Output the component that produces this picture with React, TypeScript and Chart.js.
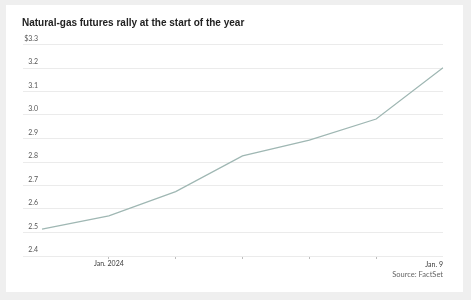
import React, { useEffect, useRef } from 'react';
import { Chart, registerables } from 'chart.js';

Chart.register(...registerables);

const categories = ['Dec. 29', 'Jan. 2024', 'Jan. 3', 'Jan. 4', 'Jan. 5', 'Jan. 8', 'Jan. 9'];
const prices = [2.514, 2.571, 2.674, 2.826, 2.893, 2.983, 3.201];
const yMin = 2.4;
const yMax = 3.3;
const yStep = 0.1;
const centeredLabelIndexes = [1];
const tickMarkIndexes = [1, 2, 3, 4, 5];
const titleText = 'Natural-gas futures rally at the start of the year';
const sourceText = 'Source: FactSet';

const TICK_FONT = 'Lato';

const endLabelPlugin = {
  id: 'endLabel',
  afterDraw(chart: any) {
    const xs = chart.scales.x;
    const ctx = chart.ctx;
    const i = categories.length - 1;
    ctx.save();
    ctx.font = `7px ${TICK_FONT}`;
    ctx.fillStyle = '#3a3a3a';
    ctx.textAlign = 'right';
    ctx.textBaseline = 'middle';
    ctx.fillText(categories[i], xs.getPixelForValue(i), xs.top + 8.5);
    ctx.restore();
  },
};

export default function App() {
  const ref = useRef<HTMLCanvasElement | null>(null);

  useEffect(() => {
    if (!ref.current) return;
    const chart = new Chart(ref.current, {
      type: 'line',
      data: {
        labels: categories,
        datasets: [
          {
            data: prices,
            borderColor: '#9fb7b3',
            borderWidth: 1.2,
            pointRadius: 0,
            tension: 0,
            fill: false,
          },
        ],
      },
      options: {
        animation: false,
        responsive: false,
        devicePixelRatio: 1,
        layout: { padding: { left: 16, right: 20, top: 39.5, bottom: 0 } },
        plugins: {
          legend: { display: false },
          tooltip: { enabled: false },
          title: { display: false },
        },
        scales: {
          x: {
            type: 'category',
            offset: false,
            border: { display: false },
            grid: {
              drawOnChartArea: false,
              drawTicks: true,
              tickLength: 3,
              tickColor: (c: any) => (tickMarkIndexes.includes(c.index) ? '#bdbdbd' : 'rgba(0,0,0,0)'),
            },
            ticks: {
              autoSkip: false,
              maxRotation: 0,
              minRotation: 0,
              padding: 1,
              color: '#3a3a3a',
              font: { family: TICK_FONT, size: 7 },
              callback: (_v: any, i: number) => (centeredLabelIndexes.includes(i) ? categories[i] : ''),
            },
            afterFit: (s: any) => {
              s.height = 36;
            },
          },
          y: {
            min: yMin,
            max: yMax,
            border: { display: false },
            grid: {
              color: '#ebebeb',
              lineWidth: 1,
              drawTicks: true,
              tickLength: 19,
            },
            ticks: {
              stepSize: yStep,
              padding: -15,
              labelOffset: -6,
              crossAlign: 'near',
              color: '#555',
              font: { family: TICK_FONT, size: 7 },
              callback: (v: any) => {
                const n = Number(v);
                const s = n.toFixed(1);
                return Math.abs(n - yMax) < 1e-6 ? '$' + s : s;
              },
            },
            afterFit: (s: any) => {
              s.width = 20;
            },
          },
        },
      },
      plugins: [endLabelPlugin],
    } as any);
    return () => chart.destroy();
  }, []);

  return (
    <div
      style={{
        position: 'fixed',
        left: 0,
        top: 0,
        width: 471,
        height: 300,
        background: '#efefef',
        overflow: 'hidden',
      }}
    >
      <div
        style={{
          position: 'absolute',
          left: 6,
          top: 5,
          width: 457,
          height: 287,
          background: '#ffffff',
        }}
      >
        <canvas ref={ref} width={457} height={287} style={{ display: 'block', width: 457, height: 287 }} />
        <div
          style={{
            position: 'absolute',
            left: 16,
            top: 11,
            font: 'bold 10px "Liberation Sans", Arial, sans-serif',
            color: '#222',
            whiteSpace: 'nowrap',
            lineHeight: '14px',
          }}
        >
          {titleText}
        </div>
        <div
          style={{
            position: 'absolute',
            right: 20,
            top: 265,
            font: `7.5px ${TICK_FONT}, sans-serif`,
            color: '#666',
            whiteSpace: 'nowrap',
            lineHeight: '10px',
          }}
        >
          {sourceText}
        </div>
      </div>
    </div>
  );
}
